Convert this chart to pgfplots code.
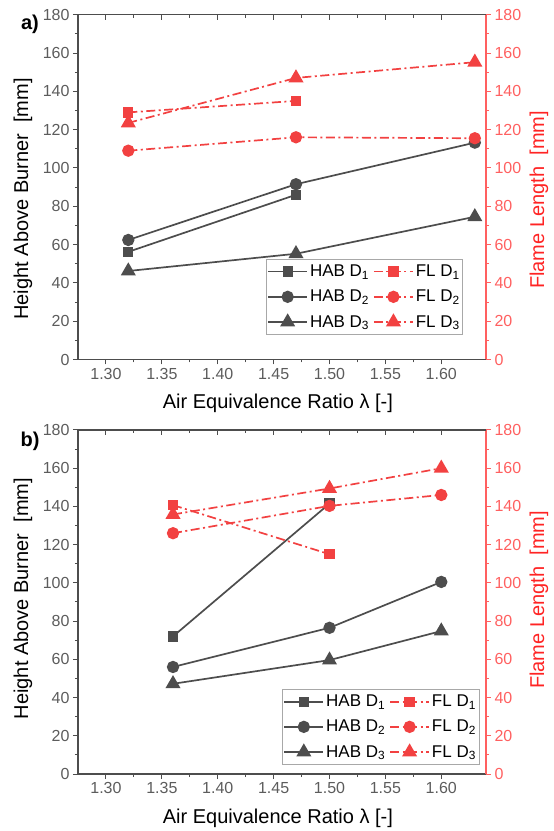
\documentclass[border=0pt]{standalone}
\usepackage{fontspec}
\setmainfont{Liberation Sans}
\usepackage{pgfplots}
\usepackage{pgfplotstable}
\pgfplotsset{compat=1.18}

\definecolor{habgray}{HTML}{4D4D4D}
\definecolor{flred}{HTML}{F24141}
\definecolor{axisgray}{HTML}{4D4D4D}
\definecolor{ticktext}{HTML}{5C5C5C}
\definecolor{axisred}{HTML}{FF6060}
\definecolor{labelred}{HTML}{FF2424}
\definecolor{legendframe}{HTML}{A8A8A8}

% a) burner series
\pgfplotstableread{
lambda habA  habB  habC  flA   flB   flC
1.32   56.2  62.4  46.2  129   109   123.5
1.47   86    91.5  55.2  135   116   147
1.63   nan   113.2 74.5  nan   115.5 155.2
}\tableA

% b) burner series
\pgfplotstableread{
lambda habA  habB  habC  flA   flB   flC
1.36   72    56    47.2  140.7 126   135.8
1.50   141.5 76.5  59.6  115   140.3 149.4
1.60   nan   100.5 74.8  nan   146   160
}\tableB

\pgfplotsset{
  panel/.style={
    scale only axis, width=408pt,
    xmin=1.275, xmax=1.64, ymin=0, ymax=180,
    xtick={1.3,1.35,1.4,1.45,1.5,1.55,1.6},
    ytick={0,20,...,180},
    minor x tick num=1, minor y tick num=1,
    major tick length=5pt, minor tick length=3pt,
    /pgf/number format/assume math mode=true,
    tick label style={font=\fontsize{16}{16}\selectfont},
    label style={font=\fontsize{20}{20}\selectfont},
  },
  leftaxis/.style={
    panel,
    axis x line*=bottom, axis y line*=left,
    tick align=outside,
    axis line style={draw=axisgray, line width=1.2pt, -},
    tick style={draw=axisgray, line width=1pt},
    xticklabels={1.30,1.35,1.40,1.45,1.50,1.55,1.60},
    ticklabel style={text=ticktext},
    xlabel={Air Equivalence Ratio λ [-]},
    ylabel={Height Above Burner\ \ [mm]},
    xlabel style={at={(axis description cs:0.49,-0.128)}, anchor=center},
    legend columns=2,
    legend cell align=left,
    legend style={draw=legendframe, line width=0.8pt,
      font=\fontsize{17}{17}\selectfont,
      inner xsep=1pt, inner ysep=4pt, row sep=8pt,
      /tikz/every even column/.append style={column sep=2pt}},
    legend image code/.code={%
      \draw[mark repeat=2,mark phase=2,##1]
        plot coordinates {(0pt,0pt) (19.5pt,0pt) (39pt,0pt)};},
  },
  rightaxis/.style={
    panel,
    axis x line=none, axis y line*=right,
    tick align=outside,
    axis line style={draw=axisred, line width=1.2pt, -},
    tick style={draw=axisred, line width=1pt},
    ticklabel style={text=axisred},
    ylabel={Flame Length\ \ [mm]},
    ylabel style={text=labelred},
  },
  topaxis/.style={
    panel,
    axis y line=none, axis x line*=top,
    tick align=inside,
    xticklabels={},
    axis line style={draw=axisgray, line width=1.2pt, -},
    tick style={draw=axisgray, line width=1pt},
  },
  hab/.style={habgray, line width=1.7pt, solid, mark options={solid, fill=habgray}},
  fl/.style={flred, line width=1.7pt, dash pattern=on 9pt off 3.5pt on 2pt off 3.5pt,
    mark options={solid, fill=flred}},
  sq/.style={mark=square*, mark size=4.3pt},
  ci/.style={mark=*, mark size=5.3pt},
  tr/.style={mark=triangle*, mark size=7pt},
}

\begin{document}
\begin{tikzpicture}
\useasboundingbox (0,0) rectangle (554pt,831pt);

% ---------- panel a) ----------
\begin{axis}[leftaxis, at={(78pt,471.5pt)}, anchor=south west, height=344.8pt,
  ylabel style={at={(axis description cs:-0.1348,0.4655)}, anchor=center},
  legend style={at={(axis description cs:0.944,0.071)}, anchor=south east}]
\addplot[hab, sq] table[x=lambda, y=habA] {\tableA};
\addlegendentry{HAB D\textsubscript{1}}
\addplot[fl, sq] table[x=lambda, y=flA] {\tableA};
\addlegendentry{FL D\textsubscript{1}}
\addplot[hab, ci] table[x=lambda, y=habB] {\tableA};
\addlegendentry{HAB D\textsubscript{2}}
\addplot[fl, ci] table[x=lambda, y=flB] {\tableA};
\addlegendentry{FL D\textsubscript{2}}
\addplot[hab, tr] table[x=lambda, y=habC] {\tableA};
\addlegendentry{HAB D\textsubscript{3}}
\addplot[fl, tr] table[x=lambda, y=flC] {\tableA};
\addlegendentry{FL D\textsubscript{3}}
\end{axis}
\begin{axis}[rightaxis, at={(78pt,471.5pt)}, anchor=south west, height=344.8pt,
  ylabel style={at={(axis description cs:1.13,0.4626)}, anchor=center}]
\end{axis}
\begin{axis}[topaxis, at={(78pt,471.5pt)}, anchor=south west, height=344.8pt]
\end{axis}

% ---------- panel b) ----------
\begin{axis}[leftaxis, at={(78pt,57pt)}, anchor=south west, height=344pt,
  ylabel style={at={(axis description cs:-0.1348,0.510)}, anchor=center},
  legend style={at={(axis description cs:0.9836,0.026)}, anchor=south east}]
\addplot[hab, sq] table[x=lambda, y=habA] {\tableB};
\addlegendentry{HAB D\textsubscript{1}}
\addplot[fl, sq] table[x=lambda, y=flA] {\tableB};
\addlegendentry{FL D\textsubscript{1}}
\addplot[hab, ci] table[x=lambda, y=habB] {\tableB};
\addlegendentry{HAB D\textsubscript{2}}
\addplot[fl, ci] table[x=lambda, y=flB] {\tableB};
\addlegendentry{FL D\textsubscript{2}}
\addplot[hab, tr] table[x=lambda, y=habC] {\tableB};
\addlegendentry{HAB D\textsubscript{3}}
\addplot[fl, tr] table[x=lambda, y=flC] {\tableB};
\addlegendentry{FL D\textsubscript{3}}
\end{axis}
\begin{axis}[rightaxis, at={(78pt,57pt)}, anchor=south west, height=344pt,
  ylabel style={at={(axis description cs:1.13,0.506)}, anchor=center}]
\end{axis}
\begin{axis}[topaxis, at={(78pt,57pt)}, anchor=south west, height=344pt]
\end{axis}

% panel tags
\node[font=\bfseries\fontsize{20}{20}\selectfont] at (30pt,807pt) {a)};
\node[font=\bfseries\fontsize{20}{20}\selectfont] at (30pt,390pt) {b)};
\end{tikzpicture}
\end{document}
